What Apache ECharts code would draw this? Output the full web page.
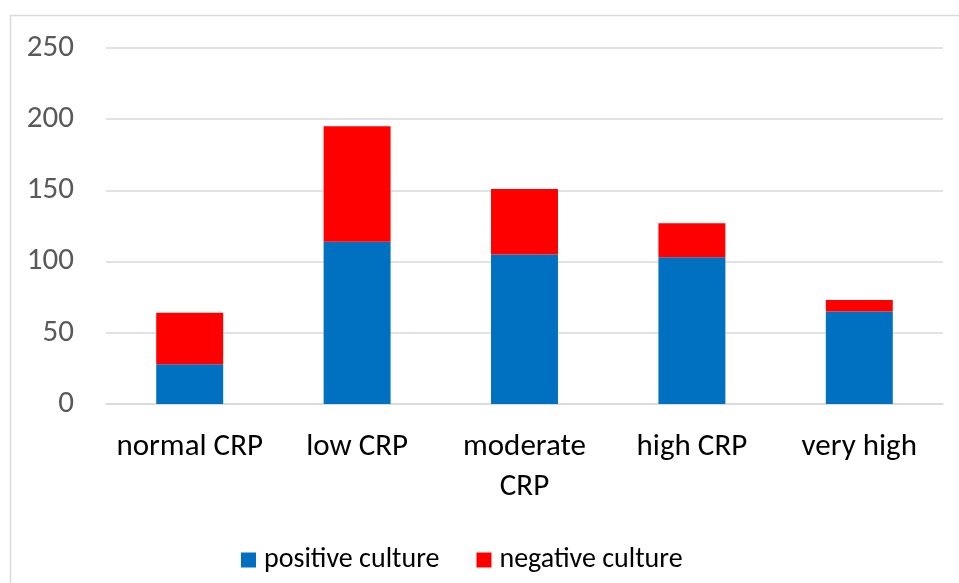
<!DOCTYPE html>
<html>
<head>
<meta charset="utf-8">
<script src="https://cdn.jsdelivr.net/npm/echarts@6/dist/echarts.min.js"></script>
<style>
  html, body { margin: 0; padding: 0; background: #fff; }
  #chart { width: 959px; height: 583px; }
</style>
</head>
<body>
<div id="chart"></div>
<script>
// CRP groups and culture results
const categories = ['normal CRP', 'low CRP', 'moderate\nCRP', 'high CRP', 'very high'];
const positiveCulture = [28, 114, 105, 103, 65];
const negativeCulture = [36, 81, 46, 24, 8];
const yTicks = { min: 0, max: 250, interval: 50 };

const FONT = 'Carlito, Lato, sans-serif';

const chart = echarts.init(document.getElementById('chart'));
chart.setOption({
  animation: false,
  backgroundColor: '#ffffff',
  graphic: [{
    type: 'rect',
    shape: { x: 10.5, y: 15.5, width: 1000, height: 1000 },
    style: { fill: 'none', stroke: '#d9d9d9', lineWidth: 1.5 },
    silent: true
  }],
  grid: { left: 106, right: 16, top: 48, bottom: 179, containLabel: false },
  legend: {
    left: 241,
    top: 546,
    padding: 0,
    icon: 'rect',
    itemWidth: 15,
    itemHeight: 15,
    itemGap: 37,
    textStyle: { fontFamily: FONT, fontSize: 28, color: '#000', padding: [0, 0, 0, 3] },
    data: ['positive culture', 'negative culture']
  },
  xAxis: {
    type: 'category',
    data: categories,
    axisLine: { lineStyle: { color: '#d9d9d9', width: 1.5 } },
    axisTick: { show: false },
    axisLabel: {
      fontFamily: FONT, fontSize: 31, color: '#000',
      lineHeight: 40, margin: 23, interval: 0
    }
  },
  yAxis: {
    type: 'value',
    min: yTicks.min, max: yTicks.max, interval: yTicks.interval,
    axisLine: { show: false },
    axisTick: { show: false },
    axisLabel: { fontFamily: FONT, fontSize: 31, color: '#595959', margin: 32 },
    splitLine: { lineStyle: { color: '#d9d9d9', width: 1.5 } }
  },
  series: [
    {
      name: 'positive culture', type: 'bar', stack: 'total',
      data: positiveCulture, barWidth: '40%',
      itemStyle: { color: '#0070C0' }
    },
    {
      name: 'negative culture', type: 'bar', stack: 'total',
      data: negativeCulture, barWidth: '40%',
      itemStyle: { color: '#FF0000' }
    }
  ]
});
</script>
</body>
</html>
